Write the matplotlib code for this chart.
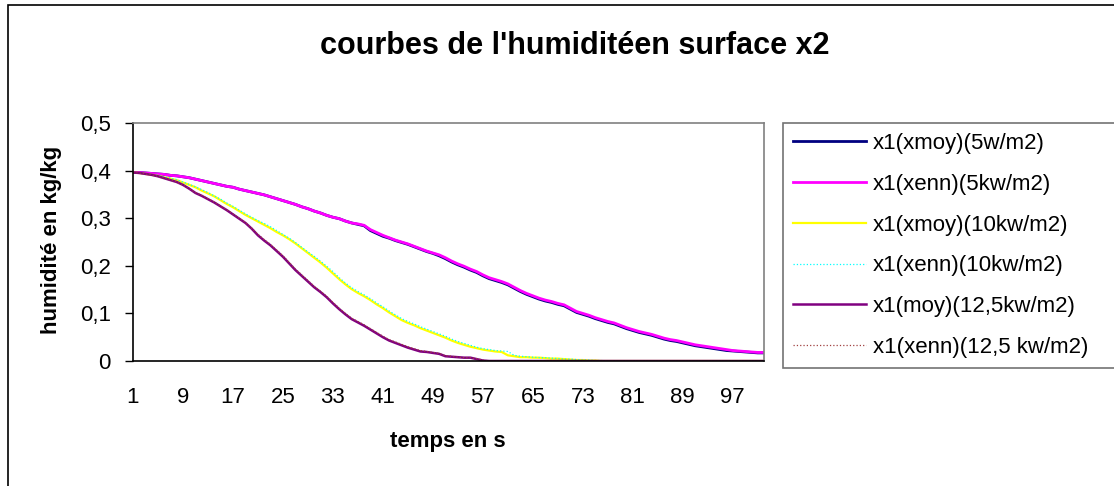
import matplotlib

matplotlib.use("Agg")
import matplotlib.pyplot as plt
from matplotlib.patches import Rectangle
from matplotlib.ticker import FixedLocator, FuncFormatter

# ---- values (t = 1 .. 102 s) ---------------------------------------------
TEMPS = list(range(1, 103))

X1_XMOY_5 = [
    0.396, 0.396, 0.395, 0.394, 0.393, 0.392, 0.390, 0.389, 0.387, 0.385,
    0.382, 0.379, 0.376, 0.373, 0.370, 0.367, 0.365, 0.361, 0.358, 0.355,
    0.352, 0.349, 0.345, 0.341, 0.337, 0.333, 0.329, 0.324, 0.320, 0.315,
    0.311, 0.306, 0.302, 0.299, 0.294, 0.290, 0.287, 0.284, 0.274, 0.268,
    0.262, 0.258, 0.253, 0.249, 0.245, 0.240, 0.235, 0.230, 0.226, 0.221,
    0.215, 0.208, 0.202, 0.197, 0.191, 0.186, 0.179, 0.173, 0.169, 0.165,
    0.160, 0.153, 0.146, 0.140, 0.135, 0.130, 0.126, 0.123, 0.119, 0.116,
    0.109, 0.102, 0.098, 0.094, 0.089, 0.085, 0.081, 0.078, 0.073, 0.068,
    0.064, 0.060, 0.057, 0.054, 0.050, 0.046, 0.043, 0.041, 0.038, 0.035,
    0.032, 0.030, 0.028, 0.026, 0.024, 0.022, 0.021, 0.020, 0.019, 0.018,
    0.017, 0.017,
]
X1_XENN_5 = [
    0.396, 0.396, 0.395, 0.394, 0.393, 0.392, 0.390, 0.389, 0.387, 0.385,
    0.382, 0.379, 0.376, 0.373, 0.370, 0.367, 0.365, 0.361, 0.358, 0.355,
    0.352, 0.349, 0.345, 0.341, 0.337, 0.333, 0.329, 0.324, 0.320, 0.315,
    0.311, 0.306, 0.302, 0.299, 0.294, 0.290, 0.288, 0.285, 0.276, 0.270,
    0.264, 0.259, 0.254, 0.250, 0.246, 0.241, 0.236, 0.231, 0.227, 0.223,
    0.217, 0.210, 0.204, 0.199, 0.193, 0.188, 0.181, 0.175, 0.171, 0.167,
    0.162, 0.155, 0.148, 0.142, 0.137, 0.132, 0.128, 0.125, 0.121, 0.118,
    0.111, 0.104, 0.100, 0.096, 0.091, 0.087, 0.083, 0.080, 0.075, 0.070,
    0.066, 0.062, 0.059, 0.056, 0.052, 0.048, 0.045, 0.043, 0.040, 0.037,
    0.034, 0.032, 0.030, 0.028, 0.026, 0.024, 0.022, 0.021, 0.020, 0.019,
    0.018, 0.018,
]
X1_XMOY_10 = [
    0.396, 0.395, 0.393, 0.391, 0.389, 0.386, 0.383, 0.380, 0.375, 0.370,
    0.365, 0.358, 0.352, 0.346, 0.338, 0.330, 0.323, 0.315, 0.307, 0.300,
    0.293, 0.286, 0.279, 0.271, 0.264, 0.256, 0.247, 0.237, 0.227, 0.217,
    0.207, 0.196, 0.184, 0.172, 0.161, 0.151, 0.143, 0.136, 0.128, 0.119,
    0.111, 0.102, 0.094, 0.086, 0.080, 0.075, 0.069, 0.064, 0.059, 0.054,
    0.049, 0.043, 0.038, 0.034, 0.030, 0.027, 0.024, 0.022, 0.020, 0.019,
    0.012, 0.010, 0.008, 0.008, 0.007, 0.007, 0.006, 0.005, 0.005, 0.004,
    0.003, 0.002, 0.002, 0.001, 0.001, 0.0, 0.0, 0.0, 0.0, 0.0,
    0.0, 0.0, 0.0, 0.0, 0.0, 0.0, 0.0, 0.0, 0.0, 0.0,
    0.0, 0.0, 0.0, 0.0, 0.0, 0.0, 0.0, 0.0, 0.0, 0.0,
    0.0, 0.0,
]
X1_XENN_10 = [
    0.396, 0.395, 0.393, 0.392, 0.390, 0.387, 0.384, 0.381, 0.376, 0.371,
    0.366, 0.360, 0.354, 0.347, 0.340, 0.332, 0.325, 0.317, 0.309, 0.302,
    0.295, 0.289, 0.282, 0.274, 0.266, 0.258, 0.249, 0.239, 0.229, 0.220,
    0.210, 0.199, 0.188, 0.175, 0.164, 0.154, 0.146, 0.139, 0.131, 0.122,
    0.114, 0.105, 0.097, 0.089, 0.083, 0.078, 0.072, 0.067, 0.062, 0.057,
    0.052, 0.046, 0.041, 0.037, 0.033, 0.029, 0.026, 0.024, 0.022, 0.021,
    0.020, 0.012, 0.010, 0.009, 0.008, 0.007, 0.007, 0.006, 0.005, 0.004,
    0.004, 0.003, 0.002, 0.002, 0.001, 0.001, 0.0, 0.0, 0.0, 0.0,
    0.0, 0.0, 0.0, 0.0, 0.0, 0.0, 0.0, 0.0, 0.0, 0.0,
    0.0, 0.0, 0.0, 0.0, 0.0, 0.0, 0.0, 0.0, 0.0, 0.0,
    0.0, 0.0,
]
X1_MOY_125 = [
    0.396, 0.395, 0.393, 0.391, 0.388, 0.384, 0.380, 0.376, 0.370, 0.362,
    0.353, 0.347, 0.340, 0.333, 0.325, 0.317, 0.308, 0.299, 0.290, 0.278,
    0.264, 0.253, 0.243, 0.231, 0.219, 0.205, 0.191, 0.179, 0.167, 0.155,
    0.145, 0.134, 0.121, 0.109, 0.098, 0.088, 0.081, 0.074, 0.066, 0.058,
    0.050, 0.043, 0.038, 0.033, 0.028, 0.024, 0.020, 0.019, 0.017, 0.015,
    0.010, 0.009, 0.008, 0.007, 0.007, 0.004, 0.001, 0.0, 0.0, 0.0,
    0.0, 0.0, 0.0, 0.0, 0.0, 0.0, 0.0, 0.0, 0.0, 0.0,
    0.0, 0.0, 0.0, 0.0, 0.0, 0.0, 0.0, 0.0, 0.0, 0.0,
    0.0, 0.0, 0.0, 0.0, 0.0, 0.0, 0.0, 0.0, 0.0, 0.0,
    0.0, 0.0, 0.0, 0.0, 0.0, 0.0, 0.0, 0.0, 0.0, 0.0,
    0.0, 0.0,
]
X1_XENN_125 = [
    0.396, 0.395, 0.393, 0.391, 0.388, 0.384, 0.380, 0.376, 0.370, 0.362,
    0.354, 0.348, 0.341, 0.334, 0.326, 0.318, 0.309, 0.300, 0.291, 0.279,
    0.266, 0.255, 0.245, 0.233, 0.221, 0.207, 0.193, 0.181, 0.169, 0.157,
    0.147, 0.136, 0.123, 0.111, 0.100, 0.090, 0.083, 0.076, 0.068, 0.060,
    0.052, 0.045, 0.040, 0.035, 0.030, 0.026, 0.022, 0.020, 0.018, 0.016,
    0.011, 0.010, 0.008, 0.007, 0.007, 0.005, 0.002, 0.0, 0.0, 0.0,
    0.0, 0.0, 0.0, 0.0, 0.0, 0.0, 0.0, 0.0, 0.0, 0.0,
    0.0, 0.0, 0.0, 0.0, 0.0, 0.0, 0.0, 0.0, 0.0, 0.0,
    0.0, 0.0, 0.0, 0.0, 0.0, 0.0, 0.0, 0.0, 0.0, 0.0,
    0.0, 0.0, 0.0, 0.0, 0.0, 0.0, 0.0, 0.0, 0.0, 0.0,
    0.0, 0.0,
]

LABELS = [
    "x1(xmoy)(5w/m2)",
    "x1(xenn)(5kw/m2)",
    "x1(xmoy)(10kw/m2)",
    "x1(xenn)(10kw/m2)",
    "x1(moy)(12,5kw/m2)",
    "x1(xenn)(12,5 kw/m2)",
]
XTICKS = [1, 9, 17, 25, 33, 41, 49, 57, 65, 73, 81, 89, 97]
YTICKS = [0, 0.1, 0.2, 0.3, 0.4, 0.5]

plt.rcParams["font.family"] = ["Liberation Sans", "DejaVu Sans"]

W, H = 1114, 486
fig = plt.figure(figsize=(W / 100, H / 100), dpi=100)
fig.patch.set_facecolor("white")

# chart-area border (cut off at right/bottom in the original)
fig.add_artist(Rectangle((8 / W, -0.05), 1.1, 1 - 5 / H + 0.05,
                         transform=fig.transFigure, fc="none", ec="black", lw=1.2))

ax = fig.add_axes([133 / W, 1 - 361 / H, 631 / W, 238 / H])

series = [
    (X1_XMOY_5, "#000080", "-", 2.0),
    (X1_XENN_5, "#FF00FF", "-", 2.0),
    (X1_XMOY_10, "#FFFF00", "-", 1.6),
    (X1_XENN_10, "#00FFFF", ":", 0.9),
    (X1_MOY_125, "#800080", "-", 1.8),
    (X1_XENN_125, "#A04040", ":", 0.9),
]
for (vals, col, ls, lw), lab in zip(series, LABELS):
    ax.plot(TEMPS, vals, color=col, ls=ls, lw=lw, label=lab)

ax.set_xlim(1, 102)
ax.set_ylim(0, 0.5)
ax.xaxis.set_major_locator(FixedLocator(XTICKS))
ax.yaxis.set_major_locator(FixedLocator(YTICKS))
ax.yaxis.set_major_formatter(FuncFormatter(lambda v, p: f"{v:g}".replace(".", ",")))
ax.tick_params(axis="x", length=0, pad=19, labelsize=16)
ax.tick_params(axis="y", length=6, width=1, direction="out", pad=10, labelsize=16)

for side in ("left", "bottom"):
    ax.spines[side].set_color("black")
    ax.spines[side].set_linewidth(1.2)
for side in ("top", "right"):
    ax.spines[side].set_color("#808080")
    ax.spines[side].set_linewidth(1.2)

fig.text(575 / W, 1 - 46 / H, "courbes de l'humiditéen surface x2",
         ha="center", va="center", fontsize=22, fontweight="bold")
fig.text(52 / W, 1 - 240 / H, "humidité en kg/kg", rotation=90,
         ha="center", va="center", fontsize=16, fontweight="bold")
fig.text(448 / W, 1 - 441 / H, "temps en s",
         ha="center", va="center", fontsize=16, fontweight="bold")

leg_top = 1 - 123 / H
leg_h = 241 / H
leg = ax.legend(loc="upper left",
                bbox_to_anchor=(783 / W, leg_top - leg_h, 360 / W, leg_h),
                bbox_transform=fig.transFigure, mode="expand", fontsize=16,
                frameon=True, fancybox=False, edgecolor="#505050",
                handlelength=3.3, handletextpad=0.3, labelspacing=0.89,
                borderpad=0.45, borderaxespad=0)
leg.get_frame().set_linewidth(1.2)

fig.savefig("out.png", dpi=100, facecolor="white")
